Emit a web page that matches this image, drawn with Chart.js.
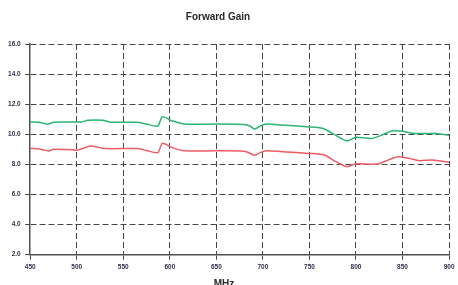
<!DOCTYPE html>
<html>
<head>
<meta charset="utf-8">
<script src="https://cdn.jsdelivr.net/npm/chart.js@4/dist/chart.umd.min.js"></script>
<style>
html,body{margin:0;padding:0;background:#fff;}
#wrap{width:458px;height:285px;}
</style>
</head>
<body>
<div id="wrap"><canvas id="c" width="458" height="285"></canvas></div>
<script>
const chartTitle = "Forward Gain";
const xAxisTitle = "MHz";
const yTicks = [2, 4, 6, 8, 10, 12, 14, 16];
const xTicks = [450, 500, 550, 600, 650, 700, 750, 800, 850, 900];

const greenFreq = [450,460,465,470,475,490,505,512,528,537,565,575,587,592,602,616,650,680,686,691,697,704,720,747,764,775,790,800,817,830,838,848,860,886,900];
const greenGain = [10.82,10.80,10.72,10.68,10.80,10.82,10.82,10.93,10.93,10.80,10.80,10.68,10.55,11.17,10.90,10.68,10.68,10.65,10.55,10.35,10.55,10.68,10.62,10.50,10.40,10.05,9.56,9.80,9.73,10.00,10.22,10.22,10.07,10.05,9.93];

const redFreq = [450,460,465,470,475,490,501,515,530,565,575,587,592,602,616,650,680,686,691,697,704,720,750,766,778,790,800,823,835,845,857,868,882,900];
const redGain = [9.07,9.02,8.95,8.89,9.00,8.99,8.95,9.22,9.05,9.05,8.92,8.78,9.40,9.13,8.90,8.90,8.88,8.75,8.60,8.78,8.90,8.85,8.73,8.62,8.20,7.85,8.03,8.03,8.30,8.51,8.40,8.25,8.29,8.14];

const toPts = (xs, ys) => xs.map((x, i) => ({x: x, y: ys[i]}));

const textPlugin = {
  id: 'textPlugin',
  afterDraw(chart) {
    const ctx = chart.ctx;
    ctx.save();
    ctx.fillStyle = '#2a2a2a';
    ctx.textAlign = 'center';
    ctx.textBaseline = 'middle';
    ctx.font = 'bold 10px "Liberation Sans", Arial, sans-serif';
    ctx.fillText(chartTitle, 218, 17);
    ctx.fillText(xAxisTitle, 224, 284);
    ctx.restore();
  }
};

const tickFont = {family: '"Liberation Sans", Arial, sans-serif', size: 6.5, weight: 'bold'};
const gridCol = (first) => (c) => (c.tick && c.tick.value === first) ? 'rgba(0,0,0,0)' : '#474747';

new Chart(document.getElementById('c'), {
  type: 'line',
  data: {
    datasets: [
      {data: toPts(greenFreq, greenGain), borderColor: '#2bb673', borderWidth: 1.5, pointRadius: 0, tension: 0.25, fill: false},
      {data: toPts(redFreq, redGain), borderColor: '#ef5b63', borderWidth: 1.5, pointRadius: 0, tension: 0.25, fill: false}
    ]
  },
  options: {
    responsive: false,
    animation: false,
    layout: {padding: {top: 44, right: 7.7, left: 0, bottom: 0}},
    plugins: {legend: {display: false}, title: {display: false}, tooltip: {enabled: false}},
    scales: {
      x: {
        type: 'linear', min: 450, max: 900,
        afterBuildTicks(s) { s.ticks = xTicks.map(v => ({value: v})); },
        afterFit(s) { s.height = 30.3; },
        ticks: {font: tickFont, color: '#30304a', padding: 3.5, maxRotation: 0, autoSkip: false},
        grid: {color: gridCol(450), lineWidth: 1, tickLength: 5, tickColor: '#444'},
        border: {display: true, color: '#505050', width: 1.5, dash: [6, 3]}
      },
      y: {
        min: 2, max: 16,
        afterBuildTicks(s) { s.ticks = yTicks.map(v => ({value: v})); },
        afterFit(s) { s.width = 30.2; },
        ticks: {font: tickFont, color: '#30304a', padding: 4.5, callback: v => Number(v).toFixed(1)},
        grid: {color: gridCol(2), lineWidth: 1, tickLength: 5, tickColor: '#444'},
        border: {display: true, color: '#505050', width: 1.5, dash: [6, 3]}
      }
    }
  },
  plugins: [textPlugin]
});
</script>
</body>
</html>
